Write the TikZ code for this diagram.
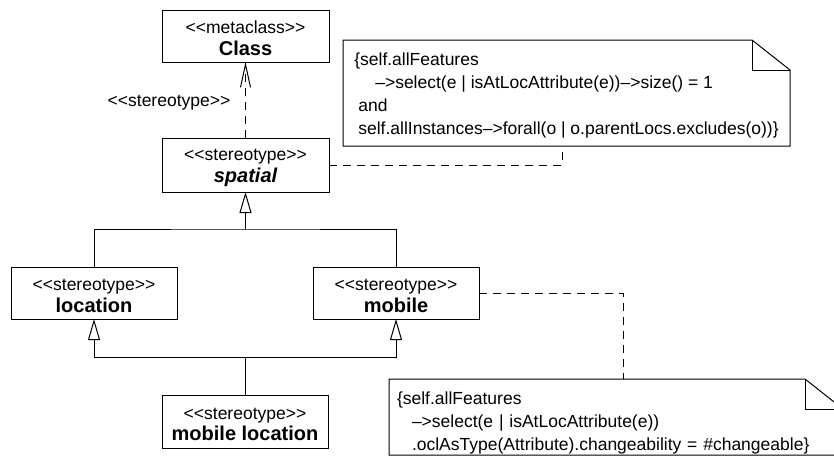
\documentclass[tikz,border=0pt]{standalone}
\usepackage{fontspec}
\setmainfont{Liberation Sans}
\usetikzlibrary{arrows.meta}
\newcommand{\lgu}{<\kern0pt<}
\newcommand{\rgu}{>\kern0pt>}
\begin{document}
\begin{tikzpicture}[x=1pt,y=-1pt,
  every path/.style={line width=1pt},
  umlbox/.style={draw, line width=1pt, minimum width=167pt, minimum height=52pt, inner sep=0pt, outer sep=0pt, align=center, font=\fontsize{17.5}{21.5}\selectfont},
  notebox/.style={inner sep=0pt, outer sep=0pt, align=left, font=\fontsize{17.5}{23}\selectfont},
  gen/.style={-{Triangle[open,length=21pt,width=12pt]}},
  dep/.style={dash pattern=on 8pt off 6pt, -{Straight Barb[length=23pt,width=10pt]}},
  noteline/.style={dash pattern=on 8pt off 6pt}
]
\newcommand{\stname}[1]{{\fontsize{20}{21.5}\selectfont\bfseries #1}}
\newcommand{\up}{\rule{0pt}{17pt}}
\useasboundingbox (0,0) rectangle (834,456);

\node[umlbox] (class) at (245.5,36) {\up\lgu metaclass\rgu\\\stname{Class}};
\node[umlbox, minimum height=54pt] (spatial) at (245.5,165) {\up\lgu stereotype\rgu\\\stname{\itshape spatial}};
\node[umlbox, minimum width=166pt] (location) at (94,293) {\up\lgu stereotype\rgu\\\stname{location}};
\node[umlbox, minimum width=166pt] (mobile) at (396,293) {\up\lgu stereotype\rgu\\\stname{mobile}};
\node[umlbox, minimum width=166pt, minimum height=53pt] (mobloc) at (245,421.5) {\up\lgu stereotype\rgu\\\stname{mobile location}};

\node[font=\fontsize{17.5}{21}\selectfont, inner sep=0pt] (stlabel) at (169,103) {\lgu stereotype\rgu};

% notes
\node[notebox, minimum width=447pt, minimum height=106pt] (note1) at (566.5,93)
 {\rule{0pt}{17pt}\{self.allFeatures\\
  \hspace*{21pt}–>select(e | isAtLocAttribute(e))–>size() = 1\\
  \hspace*{4pt}and\\
  \hspace*{4pt}self.allInstances–>forall(o | o.parentLocs.excludes(o))\}};
\draw (note1.south west) -- (note1.north west) -- ([xshift=-38pt]note1.north east)
  -- ([yshift=-30pt]note1.north east) -- (note1.south east) -- cycle;
\draw ([xshift=-38pt]note1.north east) |- ([yshift=-30pt]note1.north east);

\node[notebox, text width=438pt, inner xsep=8pt, minimum height=76pt] (note2) at (616,417)
 {\rule{0pt}{25pt}\{self.allFeatures\\
  \hspace*{15pt}–>select(e | isAtLocAttribute(e))\\
  \hspace*{15pt}.oclAsType(Attribute).changeability = \#changeable\}};
\draw (note2.south west) -- (note2.north west) -- ([xshift=-38pt]note2.north east)
  -- ([yshift=-30pt]note2.north east) -- (note2.south east) -- cycle;
\draw ([xshift=-38pt]note2.north east) |- ([yshift=-30pt]note2.north east);

% connectors
\draw[dep] (spatial.north) -- (class.south);

\coordinate (j1) at (245.5,229);
\draw (location.north) |- (j1) -| (mobile.north);
\draw[gen] (j1) -- (spatial.south);

\coordinate (j2) at (245,357);
\draw (mobloc.north) -- (j2);
\draw[gen] (j2) -| (location.south);
\draw[gen] (j2) -| (mobile.south);

\draw[noteline] (spatial.east) -| ([xshift=-4.5pt]note1.south);
\draw[noteline] (mobile.east) -| ([xshift=7pt]note2.north);
\end{tikzpicture}
\end{document}
